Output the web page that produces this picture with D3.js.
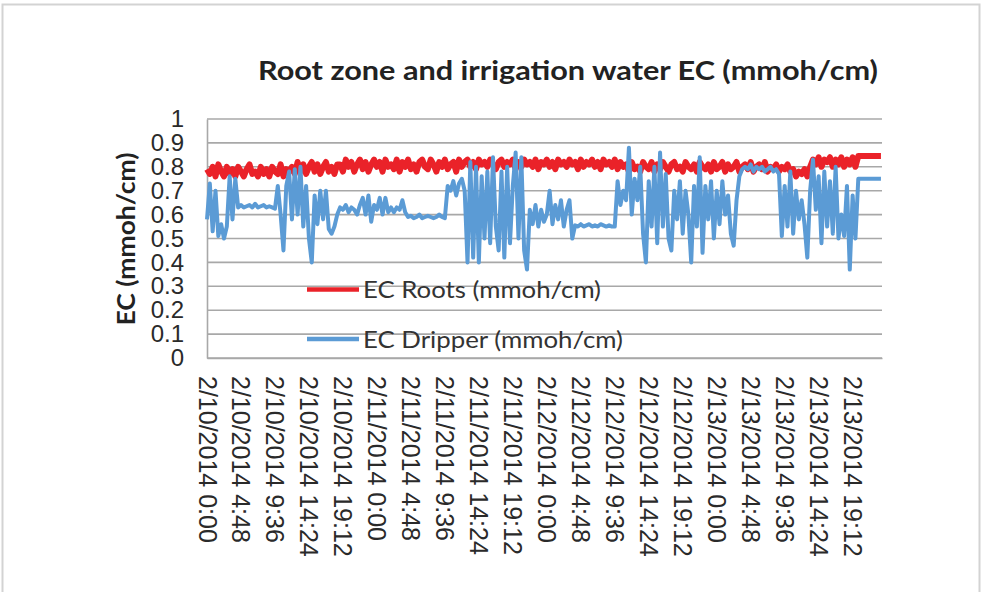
<!DOCTYPE html>
<html><head><meta charset="utf-8">
<script src="https://cdn.jsdelivr.net/npm/d3@7"></script>
<style>body{margin:0;background:#fff}svg{display:block}</style>
</head><body><svg id="c" width="984" height="592"></svg>
<script>
// ---- data ----
const titleText = "Root zone and irrigation water EC (mmoh/cm)";
const yTitle = "EC (mmoh/cm)";
const seriesNames = ["EC Roots (mmoh/cm)", "EC Dripper (mmoh/cm)"];
const startTime = new Date(2014, 1, 10, 0, 0);
const sampleStepHours = 0.4;
const domainHours = 95.35;
const xTickHours = [0,4.8,9.6,14.4,19.2,24,28.8,33.6,38.4,43.2,48,52.8,57.6,62.4,67.2,72,76.8,81.6,86.4,91.2];
const xTickLabels = ["2/10/2014 0:00","2/10/2014 4:48","2/10/2014 9:36","2/10/2014 14:24","2/10/2014 19:12",
  "2/11/2014 0:00","2/11/2014 4:48","2/11/2014 9:36","2/11/2014 14:24","2/11/2014 19:12",
  "2/12/2014 0:00","2/12/2014 4:48","2/12/2014 9:36","2/12/2014 14:24","2/12/2014 19:12",
  "2/13/2014 0:00","2/13/2014 4:48","2/13/2014 9:36","2/13/2014 14:24","2/13/2014 19:12"];
const yTicks = [0,0.1,0.2,0.3,0.4,0.5,0.6,0.7,0.8,0.9,1];
const yTickLabels = ["0","0.1","0.2","0.3","0.4","0.5","0.6","0.7","0.8","0.9","1"];

const ecRoots = [
0.79,0.77,0.80,0.76,0.81,0.78,0.76,0.80,0.77,0.79,
0.76,0.80,0.78,0.76,0.79,0.81,0.77,0.78,0.76,0.80,
0.77,0.79,0.76,0.80,0.78,0.77,0.81,0.76,0.79,0.78,
0.80,0.77,0.82,0.78,0.81,0.77,0.80,0.82,0.78,0.81,0.77,0.80,0.82,0.78,0.80,0.77,0.81,
0.81,0.78,0.83,0.80,0.82,0.78,0.81,0.83,0.79,0.82,
0.78,0.81,0.83,0.80,0.82,0.78,0.83,0.80,0.81,0.79,
0.83,0.78,0.82,0.80,0.83,0.79,0.81,0.78,0.82,0.83,
0.80,0.79,0.83,0.81,0.78,0.82,0.80,0.83,0.79,0.81,
0.82,0.78,0.83,0.80,0.82,
0.83,0.80,0.82,0.79,0.83,0.81,0.82,0.80,0.83,0.81,
0.79,0.82,0.83,0.80,0.82,0.81,0.83,0.79,0.82,0.80,
0.83,0.81,0.82,0.80,0.83,0.79,0.82,0.81,0.83,0.80,
0.82,0.79,0.83,0.81,0.82,0.80,0.83,0.81,0.82,0.79,
0.83,0.80,0.82,0.81,0.83,0.80,0.82,0.79,0.83,0.81,
0.82,0.80,0.83,0.79,0.82,0.80,
0.81,0.78,0.82,0.79,0.80,0.78,0.82,0.80,0.79,0.82,
0.78,0.81,0.79,0.82,0.80,0.78,0.81,0.82,0.79,0.80,
0.78,0.82,0.80,0.79,0.81,0.78,0.82,0.80,0.79,0.81,
0.78,0.82,0.79,0.80,0.82,0.78,0.81,0.79,0.80,0.82,
0.78,0.80,0.81,0.79,0.82,0.78,0.80,0.81,0.79,0.82,
0.78,0.80,0.79,0.81,0.78,0.80,0.79,0.81,0.78,
0.79,0.76,0.78,0.77,0.79,0.76,
0.80,0.83,0.81,0.84,0.80,0.83,0.82,0.84,0.80,0.83,0.81,0.84,0.80,0.83,0.81,0.84,0.80,
0.845,0.845,0.845,0.845,0.845,0.845,0.845,0.845,0.845
];

const ecDripper = [
0.58,0.73,0.53,0.70,0.51,0.56,0.50,0.55,0.76,0.58,
0.75,0.63,0.64,0.63,0.635,0.64,0.63,0.645,0.63,0.635,
0.64,0.63,0.635,0.63,0.625,0.72,0.60,0.45,0.72,0.78,
0.58,0.79,0.60,0.80,0.55,0.72,0.50,0.40,0.68,0.56,
0.70,0.58,0.70,0.54,0.52,0.55,0.60,0.63,0.62,0.64,
0.61,0.63,0.62,0.60,0.64,0.67,0.60,0.68,0.57,0.64,
0.62,0.67,0.60,0.67,0.61,0.63,0.61,0.63,0.62,0.66,
0.61,0.59,0.595,0.585,0.59,0.60,0.585,0.59,0.595,0.59,
0.585,0.59,0.60,0.59,0.585,0.72,0.70,0.74,0.68,0.73,
0.75,0.70,0.40,0.82,0.42,0.80,0.40,0.76,0.50,0.78,
0.48,0.84,0.55,0.45,0.78,0.42,0.80,0.48,0.72,0.86,
0.50,0.84,0.45,0.37,0.62,0.56,0.64,0.55,0.62,0.57,
0.60,0.70,0.56,0.64,0.58,0.66,0.55,0.62,0.66,0.50,
0.555,0.55,0.56,0.55,0.555,0.56,0.55,0.555,0.55,0.56,
0.555,0.55,0.555,0.55,0.55,0.74,0.64,0.70,0.66,0.88,
0.60,0.75,0.66,0.80,0.52,0.40,0.74,0.55,0.80,0.48,
0.86,0.55,0.77,0.50,0.45,0.70,0.58,0.74,0.52,0.70,
0.60,0.40,0.72,0.55,0.84,0.44,0.72,0.58,0.74,0.50,
0.70,0.56,0.74,0.60,0.68,0.52,0.47,0.66,0.76,0.79,
0.80,0.79,0.81,0.78,0.80,0.79,0.80,0.78,0.79,0.80,
0.78,0.79,0.77,0.51,0.72,0.55,0.78,0.52,0.70,0.58,
0.66,0.56,0.42,0.70,0.83,0.62,0.76,0.48,0.78,0.55,
0.74,0.52,0.80,0.50,0.60,0.51,0.72,0.37,0.68,0.50,
0.75,0.75,0.75,0.75,0.75,0.75,0.75,0.75,0.75
];

const colors = ["#ea2229", "#5b9bd5"];
const strokeWidths = [6, 4];

// ---- layout ----
const svg = d3.select("#c");
const L = 207, R = 882, T = 119, B = 358;
const hour = 3600 * 1000;
const x = d3.scaleTime()
  .domain([startTime, new Date(+startTime + domainHours * hour)])
  .range([L, R]);
const y = d3.scaleLinear().domain([0, 1]).range([B, T]);

// outer frame
svg.append("rect").attr("x", 2.5).attr("y", 4.5).attr("width", 977).attr("height", 620)
  .attr("fill", "none").attr("stroke", "#d3d3d3").attr("stroke-width", 2);

// title
svg.append("text").attr("x", 258).attr("y", 80)
  .attr("font-family", "Lato, 'Open Sans', sans-serif").attr("font-weight", 700)
  .attr("font-size", 27).attr("fill", "#222")
  .attr("textLength", 620).attr("lengthAdjust", "spacingAndGlyphs")
  .text(titleText);

// gridlines
svg.append("g").selectAll("line").data(yTicks).join("line")
  .attr("x1", L).attr("x2", R)
  .attr("y1", d => y(d)).attr("y2", d => y(d))
  .attr("stroke", "#a8a8a8").attr("stroke-width", 1.6);

// y axis
const yAxis = d3.axisLeft(y).tickValues(yTicks)
  .tickFormat((d, i) => yTickLabels[i]).tickSize(0).tickPadding(23);
const gy = svg.append("g").attr("transform", `translate(${L},0)`).call(yAxis);
gy.select(".domain").attr("stroke", "#a8a8a8").attr("stroke-width", 1.6);
gy.selectAll("text").attr("font-family", "'Liberation Sans', Arial, sans-serif")
  .attr("font-size", 24).attr("fill", "#2a2a2a");

// x axis
const xTickDates = xTickHours.map(h => new Date(+startTime + h * hour));
const xAxis = d3.axisBottom(x).tickValues(xTickDates)
  .tickFormat((d, i) => xTickLabels[i]).tickSize(0);
const gx = svg.append("g").attr("transform", `translate(0,${B})`).call(xAxis);
gx.select(".domain").attr("stroke", "#a8a8a8").attr("stroke-width", 1.6);
gx.selectAll("text")
  .attr("font-family", "'Liberation Sans', Arial, sans-serif")
  .attr("font-size", 25).attr("fill", "#2a2a2a")
  .attr("text-anchor", "start")
  .attr("transform", "rotate(90)")
  .attr("x", 18).attr("y", 0).attr("dy", "0.36em");

// y title
svg.append("text").attr("transform", "translate(135,239) rotate(-90)")
  .attr("text-anchor", "middle")
  .attr("font-family", "Lato, 'Open Sans', sans-serif").attr("font-weight", 700)
  .attr("font-size", 24).attr("fill", "#222")
  .attr("textLength", 173).attr("lengthAdjust", "spacingAndGlyphs")
  .text(yTitle);

// series lines
const line = d3.line()
  .x((d, i) => x(new Date(+startTime + i * sampleStepHours * hour)))
  .y(d => y(d));
[ecRoots, ecDripper].forEach((s, k) => {
  svg.append("path").datum(s).attr("d", line)
    .attr("fill", "none").attr("stroke", colors[k]).attr("stroke-width", strokeWidths[k])
    .attr("stroke-linejoin", "round").attr("stroke-linecap", "butt");
});

// legend
const legendY = [0.287, 0.08];
const legendLen = [238, 260];
seriesNames.forEach((n, k) => {
  const ly = y(legendY[k]);
  svg.append("line").attr("x1", 307).attr("x2", 359).attr("y1", ly).attr("y2", ly)
    .attr("stroke", colors[k]).attr("stroke-width", 4.5);
  svg.append("text").attr("x", 363).attr("y", ly).attr("dy", "0.36em")
    .attr("font-family", "Lato, 'Open Sans', sans-serif").attr("font-size", 24)
    .attr("fill", "#333")
    .attr("textLength", legendLen[k]).attr("lengthAdjust", "spacingAndGlyphs")
    .text(n);
});
</script>
</body></html>
